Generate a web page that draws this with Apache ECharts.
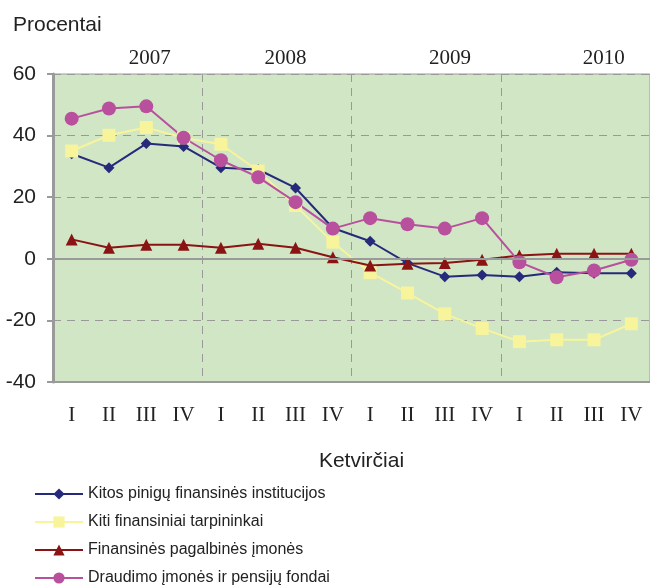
<!DOCTYPE html>
<html><head><meta charset="utf-8">
<script src="https://cdn.jsdelivr.net/npm/echarts@6/dist/echarts.min.js"></script>
<style>html,body{margin:0;padding:0;background:#fff}#c{width:650px;height:588px}</style>
</head><body><div id="c"></div>
<script>
var quarters = ['I','II','III','IV','I','II','III','IV','I','II','III','IV','I','II','III','IV'];
var years = ['2007','2008','2009','2010'];
var seriesNames = ['Kitos pinigų finansinės institucijos','Kiti finansiniai tarpininkai','Finansinės pagalbinės įmonės','Draudimo įmonės ir pensijų fondai'];
var kitosPinigu = [34.1,29.6,37.4,36.5,29.6,29.0,23.0,10.0,5.7,-1.4,-5.8,-5.3,-5.8,-4.4,-4.7,-4.7];
var kitiTarpininkai = [35.0,40.1,42.6,39.3,37.2,28.5,17.3,5.4,-4.5,-11.1,-17.9,-22.6,-26.9,-26.3,-26.3,-21.1];
var pagalbinesImones = [6.3,3.6,4.6,4.6,3.6,4.9,3.6,0.5,-2.2,-1.6,-1.4,-0.3,1.1,1.6,1.6,1.6];
var draudimoFondai = [45.5,48.8,49.5,39.3,32.0,26.5,18.4,9.8,13.2,11.2,9.8,13.2,-1.1,-6.0,-3.8,-0.3];
var yTicks = {min:-40, max:60, interval:20};
// layout: where each year caption sits along the quarter scale (0..16)
var yearLabelPos = [2.59, 6.23, 10.64, 14.76];

var chart = echarts.init(document.getElementById('c'), null, {renderer:'canvas'});
var sans = 'Liberation Sans, Arial, sans-serif';
var serif = 'Liberation Serif, Times New Roman, serif';

chart.setOption({
  animation:false,
  backgroundColor:'#fff',
  grid:{left:53, top:74, width:606, height:308, show:true, backgroundColor:'#D0E6C5', borderColor:'#9a9a9a', borderWidth:1},
  legend:{
    orient:'vertical', left:34, top:486, height:102, padding:0, itemGap:12, itemWidth:48, itemHeight:14,
    textStyle:{fontFamily:sans, fontSize:16, color:'#222'},
    data:seriesNames
  },
  xAxis:[{
    type:'category', data:quarters, boundaryGap:true,
    axisLine:{onZero:false, lineStyle:{color:'#9a9a9a', width:2}},
    axisTick:{show:false},
    axisLabel:{interval:0, margin:23, fontFamily:serif, fontSize:21, color:'#222'},
    splitLine:{show:true, interval:function(i){return i>0 && i%4===0;}, lineStyle:{color:'#999', type:[8,6], width:1}},
    name:'Ketvirčiai', nameLocation:'middle', nameGap:69,
    nameTextStyle:{fontFamily:sans, fontSize:21, color:'#222', padding:[0,0,0,20]}
  },{
    type:'value', position:'top', min:0, max:16,
    axisLine:{show:false}, axisTick:{show:false}, splitLine:{show:false},
    axisLabel:{customValues:yearLabelPos, margin:5, fontFamily:serif, fontSize:21, color:'#222',
      formatter:function(v){ var i = yearLabelPos.indexOf(v); return i>=0 ? years[i] : ''; }}
  }],
  yAxis:{
    type:'value', min:yTicks.min, max:yTicks.max, interval:yTicks.interval,
    axisLine:{show:true, lineStyle:{color:'#9a9a9a', width:3}},
    axisTick:{show:true, length:6, lineStyle:{color:'#9a9a9a', width:2}},
    axisLabel:{margin:17, fontFamily:sans, fontSize:21, color:'#222'},
    splitLine:{show:true, lineStyle:{color:'#999', type:[8,6], width:1}},
    name:'Procentai', nameLocation:'end', nameGap:38,
    nameTextStyle:{fontFamily:sans, fontSize:21, color:'#222', align:'left', padding:[0,0,0,-40]}
  },
  series:[
    {name:seriesNames[0], type:'line', data:kitosPinigu, symbol:'diamond', symbolSize:11,
     lineStyle:{color:'#262A7A', width:2}, itemStyle:{color:'#262A7A'},
     markLine:{silent:true, symbol:'none', label:{show:false}, data:[{yAxis:0}], lineStyle:{color:'#9a9a9a', type:'solid', width:2}}},
    {name:seriesNames[1], type:'line', data:kitiTarpininkai, symbol:'rect', symbolSize:13,
     lineStyle:{color:'#F8F49C', width:2}, itemStyle:{color:'#F8F49C'}},
    {name:seriesNames[2], type:'line', data:pagalbinesImones, symbol:'triangle', symbolSize:12,
     lineStyle:{color:'#8A1414', width:2}, itemStyle:{color:'#8A1414'}},
    {name:seriesNames[3], type:'line', data:draudimoFondai, symbol:'circle', symbolSize:14,
     lineStyle:{color:'#B8509E', width:2}, itemStyle:{color:'#B8509E'}}
  ]
});
</script></body></html>
